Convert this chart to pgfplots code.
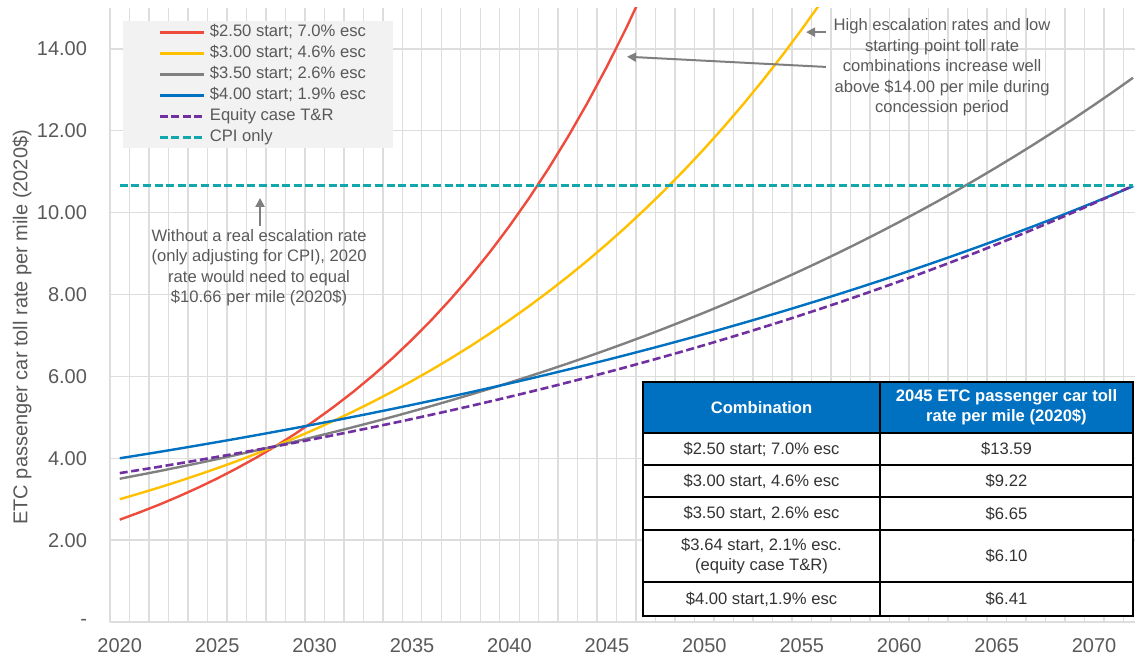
\documentclass[border=0pt]{standalone}
\usepackage{pgfplots}
\pgfplotsset{compat=1.18}
\usepackage{fontspec}
\setmainfont{Liberation Sans}
\usetikzlibrary{arrows.meta}
\definecolor{redc}{HTML}{EE4B3C}
\definecolor{yellowc}{HTML}{FFC000}
\definecolor{grayc}{HTML}{808080}
\definecolor{bluec}{HTML}{0070C0}
\definecolor{purplec}{HTML}{7030A0}
\definecolor{tealc}{HTML}{10A8AD}
\definecolor{gridc}{HTML}{DDDDDD}
\definecolor{textc}{HTML}{595959}
\definecolor{legbg}{HTML}{F2F2F2}
\definecolor{arrowc}{HTML}{7F7F7F}
\definecolor{tabtext}{HTML}{333333}
\newcommand{\smallf}{\fontsize{8.3}{10.2}\selectfont}
\begin{document}
\begin{tikzpicture}
\useasboundingbox (-55pt,-18pt) rectangle (512.5pt,311pt);
\begin{axis}[
  at={(0pt,0pt)}, anchor=south west,
  scale only axis, width=512.5pt, height=307pt,
  xmin=2019.5, xmax=2072.1, ymin=0, ymax=15,
  axis x line*=bottom, axis y line*=left,
  axis line style={draw=gridc, line width=0.7pt},
  xtick={2020,2025,...,2070},
  xticklabels={2020,2025,2030,2035,2040,2045,2050,2055,2060,2065,2070},
  minor xtick={2020.5,2021.5,2022.5,2023.5,2024.5,2025.5,2026.5,2027.5,2028.5,2029.5,
    2030.5,2031.5,2032.5,2033.5,2034.5,2035.5,2036.5,2037.5,2038.5,2039.5,
    2040.5,2041.5,2042.5,2043.5,2044.5,2045.5,2046.5,2047.5,2048.5,2049.5,
    2050.5,2051.5,2052.5,2053.5,2054.5,2055.5,2056.5,2057.5,2058.5,2059.5,
    2060.5,2061.5,2062.5,2063.5,2064.5,2065.5,2066.5,2067.5,2068.5,2069.5,
    2070.5,2071.5},
  xminorgrids, ymajorgrids,
  grid style={draw=gridc, line width=0.7pt},
  minor grid style={draw=gridc, line width=0.7pt},
  major tick length=0pt, minor tick length=0pt,
  ytick={0,2,4,6,8,10,12,14},
  yticklabels={{-\hspace{3pt}},2.00,4.00,6.00,8.00,10.00,12.00,14.00},
  tick label style={font=\fontsize{10}{12}\selectfont, text=textc},
  yticklabel style={xshift=-8pt},
  xticklabel style={yshift=-4.5pt},
  ylabel={ETC passenger car toll rate per mile (2020\$)},
  ylabel style={at={(axis description cs:-0.0859,0.48)}, anchor=center, font=\fontsize{10}{12}\selectfont, text=textc},
  legend cell align=left,
  legend image code/.code={\draw[#1] (0pt,0pt) -- (22pt,0pt);},
  legend style={at={(axis cs:2021.96,14.62)}, anchor=north west, fill=none, draw=none,
    inner sep=0pt, row sep=2pt, column sep=2.5pt, font=\smallf, text=textc,
    nodes={inner sep=0pt, text height=6.5pt, text depth=2pt}},
  solid/.style={line width=1.2pt},
  dsh/.style={line width=1.3pt, dash pattern=on 4pt off 1.8pt},
]
\fill[legbg] (axis cs:2020.17,11.58) rectangle (axis cs:2034.02,14.68);

\addplot[redc, solid] table {
2020 2.500
2021 2.675
2022 2.862
2023 3.063
2024 3.277
2025 3.506
2026 3.752
2027 4.014
2028 4.295
2029 4.596
2030 4.918
2031 5.262
2032 5.630
2033 6.025
2034 6.446
2035 6.898
2036 7.380
2037 7.897
2038 8.450
2039 9.041
2040 9.674
2041 10.351
2042 11.076
2043 11.851
2044 12.681
2045 13.569
2046 14.518
2047 15.535
};
\addlegendentry{\$2.50 start; 7.0\% esc}

\addplot[yellowc, solid] table {
2020 3.000
2021 3.138
2022 3.282
2023 3.433
2024 3.591
2025 3.756
2026 3.929
2027 4.110
2028 4.299
2029 4.497
2030 4.704
2031 4.920
2032 5.146
2033 5.383
2034 5.631
2035 5.890
2036 6.161
2037 6.444
2038 6.740
2039 7.051
2040 7.375
2041 7.714
2042 8.069
2043 8.440
2044 8.828
2045 9.235
2046 9.659
2047 10.104
2048 10.568
2049 11.055
2050 11.563
2051 12.095
2052 12.651
2053 13.233
2054 13.842
2055 14.479
2056 15.145
};
\addlegendentry{\$3.00 start; 4.6\% esc}

\addplot[grayc, solid] table {
2020 3.500
2021 3.591
2022 3.684
2023 3.780
2024 3.878
2025 3.979
2026 4.083
2027 4.189
2028 4.298
2029 4.410
2030 4.524
2031 4.642
2032 4.763
2033 4.886
2034 5.013
2035 5.144
2036 5.277
2037 5.415
2038 5.556
2039 5.700
2040 5.848
2041 6.000
2042 6.156
2043 6.316
2044 6.480
2045 6.649
2046 6.822
2047 6.999
2048 7.181
2049 7.368
2050 7.559
2051 7.756
2052 7.958
2053 8.165
2054 8.377
2055 8.595
2056 8.818
2057 9.047
2058 9.283
2059 9.524
2060 9.772
2061 10.026
2062 10.286
2063 10.554
2064 10.828
2065 11.110
2066 11.399
2067 11.695
2068 11.999
2069 12.311
2070 12.631
2071 12.959
2072 13.296
};
\addlegendentry{\$3.50 start; 2.6\% esc}

\addplot[bluec, solid] table {
2020 4.000
2021 4.076
2022 4.153
2023 4.232
2024 4.313
2025 4.395
2026 4.478
2027 4.563
2028 4.650
2029 4.738
2030 4.828
2031 4.920
2032 5.014
2033 5.109
2034 5.206
2035 5.305
2036 5.406
2037 5.508
2038 5.613
2039 5.720
2040 5.828
2041 5.939
2042 6.052
2043 6.167
2044 6.284
2045 6.403
2046 6.525
2047 6.649
2048 6.775
2049 6.904
2050 7.035
2051 7.169
2052 7.305
2053 7.444
2054 7.585
2055 7.730
2056 7.876
2057 8.026
2058 8.179
2059 8.334
2060 8.492
2061 8.654
2062 8.818
2063 8.986
2064 9.156
2065 9.330
2066 9.508
2067 9.688
2068 9.872
2069 10.060
2070 10.251
2071 10.446
2072 10.644
};
\addlegendentry{\$4.00 start; 1.9\% esc}

\addplot[purplec, dsh] table {
2020 3.637
2021 3.713
2022 3.790
2023 3.870
2024 3.951
2025 4.034
2026 4.117
2027 4.204
2028 4.291
2029 4.382
2030 4.473
2031 4.566
2032 4.662
2033 4.759
2034 4.858
2035 4.960
2036 5.064
2037 5.169
2038 5.277
2039 5.388
2040 5.501
2041 5.616
2042 5.733
2043 5.853
2044 5.975
2045 6.100
2046 6.227
2047 6.358
2048 6.491
2049 6.626
2050 6.764
2051 6.906
2052 7.050
2053 7.198
2054 7.348
2055 7.502
2056 7.659
2057 7.818
2058 7.982
2059 8.149
2060 8.319
2061 8.493
2062 8.670
2063 8.851
2064 9.036
2065 9.225
2066 9.419
2067 9.616
2068 9.816
2069 10.021
2070 10.230
2071 10.444
2072 10.660
};
\addlegendentry{Equity case T\&R}

\addplot[tealc, dsh] table {
2020 10.66
2072 10.66
};
\addlegendentry{CPI only}

% annotations
\draw[arrowc, line width=1pt, -{Triangle[length=4.5pt,width=4.5pt]}] (axis cs:2027.2,9.68) -- (axis cs:2027.2,10.36);
\node[align=center, font=\smallf, text=textc] at (axis cs:2027.15,8.66)
  {Without a real escalation rate\\(only adjusting for CPI), 2020\\rate would need to equal\\\$10.66 per mile (2020\$)};
\draw[arrowc, line width=1pt, -{Triangle[length=4.5pt,width=4.5pt]}] (axis cs:2056.24,13.56) -- (axis cs:2046.03,13.81);
\draw[arrowc, line width=1pt, -{Triangle[length=4.5pt,width=4.5pt]}] (axis cs:2056.24,14.41) -- (axis cs:2055.22,14.41);
\node[align=center, font=\smallf, text=textc] at (axis cs:2062.2,13.55)
  {High escalation rates and low\\starting point toll rate\\combinations increase well\\above \$14.00 per mile during\\concession period};
\end{axis}

% table (pixel coordinates of the reference image)
\begin{scope}[x=0.5pt,y=-0.5pt,shift={(-55pt,311pt)}]
\fill[white] (643,382) rectangle (1133,616);
\fill[bluec] (643,382) rectangle (1133,433);
\draw[line width=1.2pt] (643,433) -- (1133,433);
\draw[line width=1.2pt] (643,465) -- (1133,465);
\draw[line width=1.2pt] (643,497) -- (1133,497);
\draw[line width=1.2pt] (643,530) -- (1133,530);
\draw[line width=1.2pt] (643,582) -- (1133,582);
\draw[line width=1.2pt] (880,382) -- (880,616);
\draw[line width=1.2pt] (643,382) rectangle (1133,616);
\node[font=\smallf\bfseries, text=white] at (761.5,407.5) {Combination};
\node[font=\smallf\bfseries, text=white, align=center] at (1006.5,407.5) {2045 ETC passenger car toll\\rate per mile (2020\$)};
\node[font=\smallf, text=tabtext] at (761.5,449) {\$2.50 start; 7.0\% esc};
\node[font=\smallf, text=tabtext] at (761.5,481) {\$3.00 start, 4.6\% esc};
\node[font=\smallf, text=tabtext] at (761.5,513.5) {\$3.50 start, 2.6\% esc};
\node[font=\smallf, text=tabtext, align=center] at (761.5,556) {\$3.64 start, 2.1\% esc.\\(equity case T\&R)};
\node[font=\smallf, text=tabtext] at (761.5,599) {\$4.00 start,1.9\% esc};
\node[font=\smallf, text=tabtext] at (1006.5,449) {\$13.59};
\node[font=\smallf, text=tabtext] at (1006.5,481) {\$9.22};
\node[font=\smallf, text=tabtext] at (1006.5,513.5) {\$6.65};
\node[font=\smallf, text=tabtext] at (1006.5,556) {\$6.10};
\node[font=\smallf, text=tabtext] at (1006.5,599) {\$6.41};
\end{scope}
\end{tikzpicture}
\end{document}
